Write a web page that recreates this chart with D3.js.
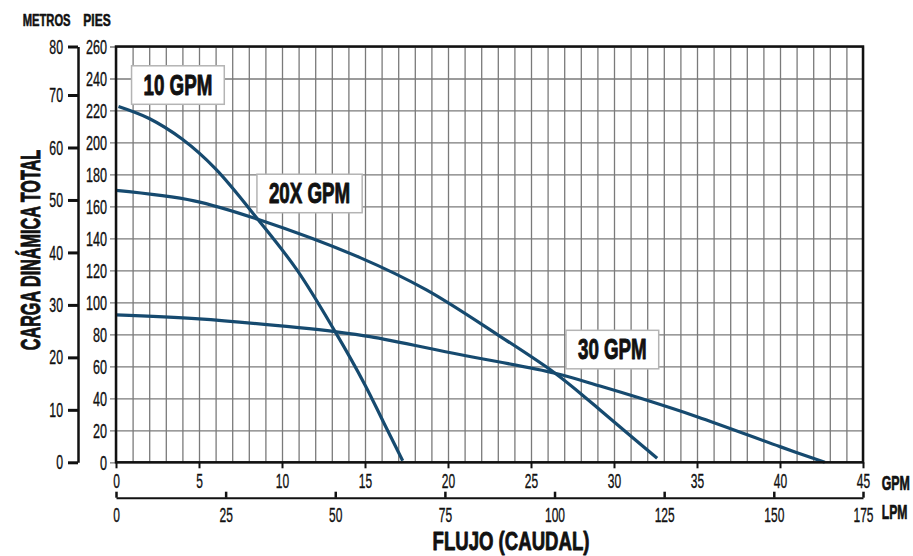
<!DOCTYPE html>
<html>
<head>
<meta charset="utf-8">
<script src="https://cdn.jsdelivr.net/npm/d3@7"></script>
<style>
  body { margin: 0; background: #fff; }
  svg { display: block; font-family: "Liberation Sans", Arial, sans-serif; }
</style>
</head>
<body>
<svg id="chart" width="913" height="556"></svg>
<script>
// tick labels
const gpmTicks = [0, 5, 10, 15, 20, 25, 30, 35, 40, 45];
const lpmTicks = [0, 25, 50, 75, 100, 125, 150, 175];
const piesTicks = [0, 20, 40, 60, 80, 100, 120, 140, 160, 180, 200, 220, 240, 260];
const metrosTicks = [0, 10, 20, 30, 40, 50, 60, 70, 80];

// pump curves, [GPM, feet]
const curve10 = [[0.15, 222.5], [2, 215], [4, 202], [6, 183.5], [8.54, 152], [10.9, 120.3],
  [13.2, 81.7], [15.0, 48.4], [16.1, 25.4], [17.27, 1]];
const curve20x = [[0, 170], [4.7, 163.5], [8.54, 152], [14.7, 128], [18.7, 107.8], [23.0, 79.7],
  [26.45, 55.7], [28.45, 39], [29.16, 32.7], [32.6, 2.5]];
const curve30 = [[0, 92.2], [5.0, 89.7], [11.0, 84.2], [13.2, 81.7], [15.3, 78.6], [20.7, 67.4],
  [26.45, 55.7], [29.16, 47.7], [31.6, 40], [35.0, 28.5], [40.0, 9.8], [42.7, 0]];

const curves = [curve10, curve20x, curve30];
const curveNames = ['10 GPM', '20X GPM', '30 GPM'];

// where the name boxes sit (GPM, feet of the text baseline centre)
const labelSpots = [[3.73, 229.8], [11.66, 162], [29.9, 64.4]];

const m = { left: 116, top: 46.5, right: 863, bottom: 462.3 };
const SX = 0.6;   // squeeze for the condensed look
const ink = '#111';
const blue = '#164a6f';
const gridCol = '#7a7a7a';

const x = d3.scaleLinear().domain([0, 45]).range([m.left, m.right]);
const y = d3.scaleLinear().domain([0, 260]).range([m.bottom, m.top]);
const xL = d3.scaleLinear().domain([0, 45 * 3.78541]).range([m.left, m.right]).clamp(true);
const yM = d3.scaleLinear().domain([0, 260 * 0.3048]).range([m.bottom, m.top]).clamp(true);

const svg = d3.select('#chart');

function plain(g) {
  g.attr('font-family', null).attr('font-size', null);
}

function tickText(sel, size) {
  sel.attr('transform', `scale(${SX},1)`)
     .attr('fill', ink)
     .attr('stroke', ink)
     .attr('stroke-width', 0.35)
     .style('font-size', size + 'px');
}

// vertical grid, one per GPM
svg.append('g')
    .attr('transform', `translate(0,${m.bottom})`)
    .call(d3.axisBottom(x).tickValues(d3.range(0, 46)).tickSize(-(m.bottom - m.top)).tickFormat(''))
    .call(g => g.select('.domain').remove())
    .call(g => g.selectAll('line').attr('stroke', gridCol).attr('stroke-width', 1.3));

// horizontal grid + feet labels
svg.append('g')
    .attr('transform', `translate(${m.left},0)`)
    .call(d3.axisLeft(y).tickValues(piesTicks).tickSize(-(m.right - m.left)).tickPadding(0))
    .call(plain)
    .call(g => g.select('.domain').remove())
    .call(g => g.selectAll('line').attr('x1', -6).attr('stroke', gridCol).attr('stroke-width', 1.3))
    .call(g => g.selectAll('text').attr('x', -9 / SX).call(tickText, 21));

// metros axis
svg.append('g')
    .attr('transform', 'translate(78,0)')
    .call(d3.axisLeft(yM).tickValues(metrosTicks).tickSize(10).tickSizeOuter(0))
    .call(plain)
    .call(g => g.select('.domain').attr('stroke', ink).attr('stroke-width', 2.5))
    .call(g => g.selectAll('line').attr('stroke', ink).attr('stroke-width', 3))
    .call(g => g.selectAll('text').attr('x', -15 / SX).call(tickText, 20.5));

// GPM axis
svg.append('g')
    .attr('transform', `translate(0,${m.bottom})`)
    .call(d3.axisBottom(x).tickValues(gpmTicks).tickSize(6).tickPadding(5.5))
    .call(plain)
    .call(g => g.select('.domain').remove())
    .call(g => g.selectAll('line').attr('stroke', ink).attr('stroke-width', 2))
    .call(g => g.selectAll('text').call(tickText, 20));

// LPM axis
svg.append('g')
    .attr('transform', 'translate(0,497.7)')
    .call(d3.axisBottom(xL).tickValues(lpmTicks).tickSizeInner(-6).tickSizeOuter(0).tickPadding(10))
    .call(plain)
    .call(g => g.select('.domain').attr('stroke', ink).attr('stroke-width', 2))
    .call(g => g.selectAll('line').attr('stroke', ink).attr('stroke-width', 2.5))
    .call(g => g.selectAll('text').call(tickText, 20));

// curves
const line = d3.line()
    .x(d => x(d[0]))
    .y(d => y(d[1]))
    .curve(d3.curveCatmullRom.alpha(0.5));

svg.append('g')
  .selectAll('path')
  .data(curves)
  .join('path')
    .attr('d', line)
    .attr('fill', 'none')
    .attr('stroke', blue)
    .attr('stroke-width', 3.2);

// frame
svg.append('rect')
    .attr('x', m.left)
    .attr('y', m.top)
    .attr('width', m.right - m.left)
    .attr('height', m.bottom - m.top)
    .attr('fill', 'none')
    .attr('stroke', ink)
    .attr('stroke-width', 2.5);

// squeezed bold text helper
function label(px, py, str, size, sx, anchor = 'start', rotate = 0) {
  const g = svg.append('g')
      .attr('transform', `translate(${px},${py}) rotate(${rotate})`);
  g.append('text')
      .attr('transform', `scale(${sx},1)`)
      .attr('text-anchor', anchor)
      .attr('font-weight', 'bold')
      .attr('fill', ink)
      .attr('stroke', ink)
      .attr('stroke-width', size / 30)
      .attr('stroke-linejoin', 'round')
      .style('font-size', size + 'px')
      .text(str);
  return g;
}

// curve name boxes
curveNames.forEach((name, i) => {
  const [gx, gy] = labelSpots[i];
  const g = label(x(gx), y(gy), name, 30, 0.625, 'middle');
  const bb = g.node().getBBox();
  g.insert('rect', 'text')
      .attr('x', bb.x - 12)
      .attr('y', -29)
      .attr('width', bb.width + 24)
      .attr('height', 38.5)
      .attr('fill', '#fff')
      .attr('stroke', '#b4b4b4')
      .attr('stroke-width', 1.5);
});

// titles
label(22.7, 26, 'METROS', 16.8, 0.667);
label(83.3, 26, 'PIES', 16.8, 0.715);
label(881.7, 490, 'GPM', 21, 0.59);
label(881.7, 518.5, 'LPM', 21, 0.58);
label(511, 550, 'FLUJO (CAUDAL)', 26, 0.715, 'middle');
label(39.5, 250, 'CARGA DINÁMICA TOTAL', 28, 0.578, 'middle', -90);
</script>
</body>
</html>
